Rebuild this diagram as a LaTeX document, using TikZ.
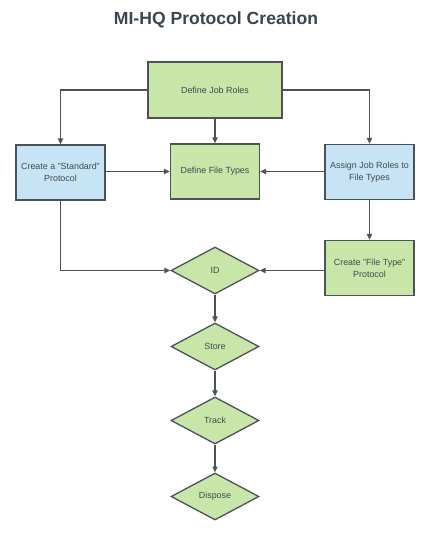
\documentclass[tikz,border=0pt]{standalone}
\usepackage{fontspec}
\setmainfont{Liberation Sans}
\usepackage{tikz}
\usetikzlibrary{arrows.meta,shapes.geometric,positioning}
\definecolor{greenbg}{HTML}{C7E6A8}
\definecolor{bluebg}{HTML}{C6E4F6}
\definecolor{edgeclr}{HTML}{4B5258}
\definecolor{txtclr}{HTML}{3F4A54}
\definecolor{titleclr}{HTML}{3A4550}

\begin{document}
\begin{tikzpicture}[
  x=0.03cm, y=-0.03cm,
  box/.style={
    rectangle,
    draw=edgeclr,
    line width=1.1pt,
    minimum width=2.67cm,
    minimum height=1.65cm,
    align=center,
    inner sep=2pt,
    text=txtclr,
    font=\fontsize{7.6}{10}\selectfont
  },
  small/.style={minimum width=2.65cm},
  wide/.style={minimum width=4.02cm, minimum height=1.68cm},
  dia/.style={
    diamond,
    draw=edgeclr,
    line width=1.1pt,
    fill=greenbg,
    aspect=1.87,
    inner sep=0pt,
    minimum width=2.64cm,
    minimum height=1.41cm,
    text=txtclr,
    font=\fontsize{7.6}{10}\selectfont
  },
  link/.style={draw=edgeclr, line width=1.1pt, -{Triangle[length=5pt,width=4.5pt]}}
]
\useasboundingbox (0,0) rectangle (433,540);

% --- Title ---
\node[text=titleclr, font=\fontsize{15}{18}\bfseries\selectfont] (title) at (216,20) {MI-HQ Protocol Creation};

% --- Boxes ---
\node[box, wide, fill=greenbg] (roles) at (215,90) {Define Job Roles};
\node[box, fill=greenbg] (types) at (215,171.5) {Define File Types};
\node[box, fill=bluebg] (standard) at (60.5,172.5) {Create a "Standard"\\Protocol};
\node[box, fill=bluebg] (assign) at (369.5,172) {Assign Job Roles to\\File Types};
\node[box, fill=greenbg] (ftproto) at (369.5,268) {Create "File Type"\\Protocol};

% --- Diamonds ---
\foreach \n/\y/\t in {id/270.5/ID, store/346.5/Store, track/420.5/Track, dispose/496.5/Dispose} {
  \node[dia] (\n) at (215,\y) {\t};
}

% --- Connectors ---
\draw[link] (roles.west) -| (standard.north);
\draw[link] (roles.east) -| (assign.north);
\draw[link] (roles) -- (types);
\draw[link] (standard.east |- types) -- (types.west);
\draw[link] (assign.west |- types) -- (types.east);
\draw[link] (assign) -- (ftproto);
\draw[link] (standard.south) |- (id.west);
\draw[link] (ftproto.west |- id) -- (id.east);
\draw[link] (id) -- (store);
\draw[link] (store) -- (track);
\draw[link] (track) -- (dispose);

\end{tikzpicture}
\end{document}
